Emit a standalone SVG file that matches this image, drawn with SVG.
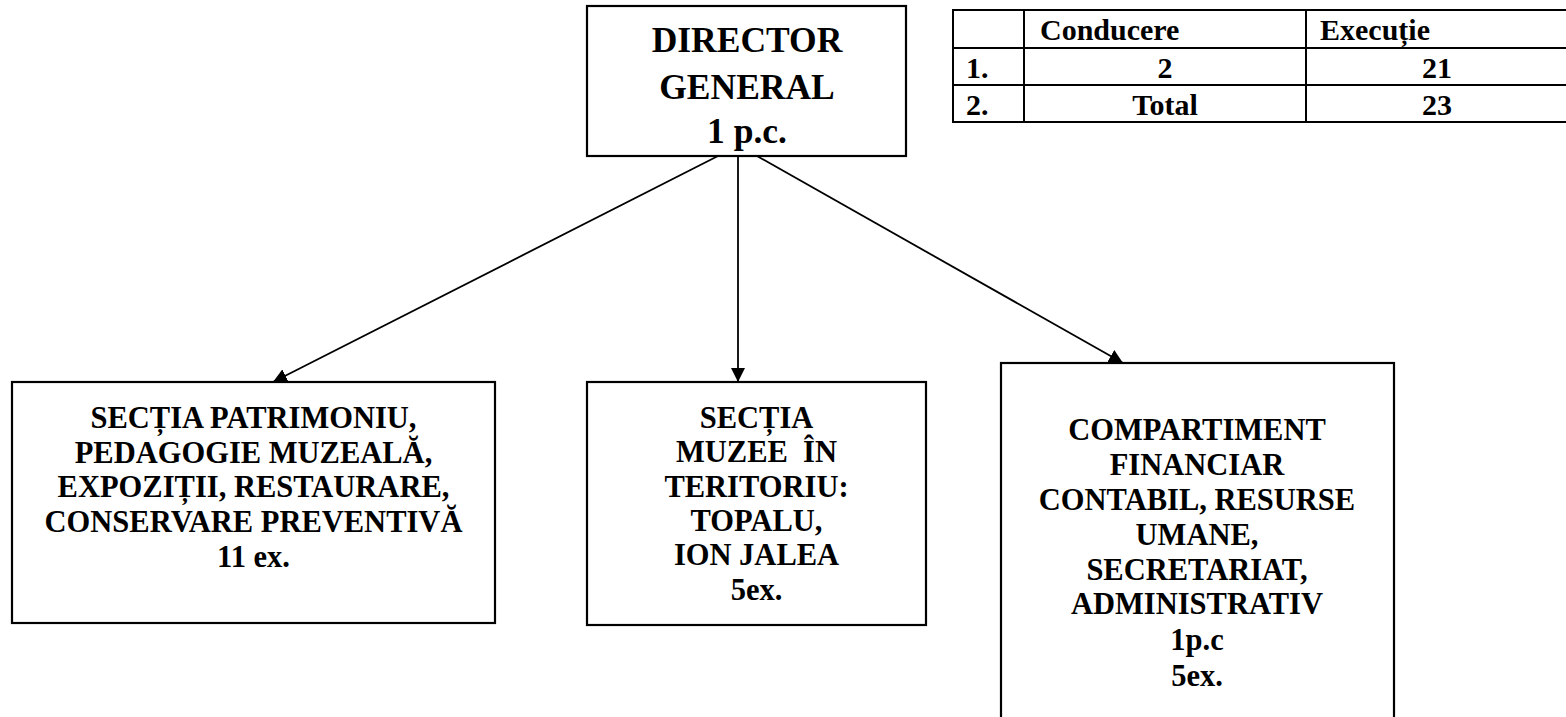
<svg xmlns="http://www.w3.org/2000/svg" width="1566" height="717" viewBox="0 0 1566 717">
<style>
.box{fill:#fff;stroke:#000;stroke-width:2.2}
.t{font-family:"Liberation Serif","Times New Roman",serif;font-weight:bold;font-size:30.5px;fill:#000;text-anchor:middle}
.dir{font-size:35.5px}
.tb{font-family:"Liberation Serif","Times New Roman",serif;font-size:30px;font-weight:bold;fill:#000}
.m{text-anchor:middle}
.ln{stroke:#000;stroke-width:2;fill:none}
.conn{stroke:#000;stroke-width:1.8;fill:none;marker-end:url(#ah)}
</style>
<defs>
<marker id="ah" viewBox="0 0 14 14" refX="14" refY="7" markerWidth="14" markerHeight="14" orient="auto" markerUnits="userSpaceOnUse">
<path d="M0,0 L14,7 L0,14 z" fill="#000"/>
</marker>
</defs>
<rect width="1566" height="717" fill="#fff"/>

<g id="connectors">
<line class="conn" x1="718" y1="156" x2="273" y2="382"/>
<line class="conn" x1="738" y1="156" x2="738" y2="382"/>
<line class="conn" x1="757" y1="156" x2="1123" y2="363"/>
</g>

<g id="director">
<rect class="box" x="587" y="6" width="319" height="150"/>
<text class="t dir" x="747" y="52">DIRECTOR</text>
<text class="t dir" x="747" y="99">GENERAL</text>
<text class="t dir" x="747" y="143">1 p.c.</text>
</g>

<g id="table">
<rect class="ln" x="953" y="10" width="620" height="112"/>
<line class="ln" x1="953" y1="48" x2="1570" y2="48"/>
<line class="ln" x1="953" y1="85" x2="1570" y2="85"/>
<line class="ln" x1="1024" y1="10" x2="1024" y2="122"/>
<line class="ln" x1="1306" y1="10" x2="1306" y2="122"/>
<text class="tb" x="1040" y="40">Conducere</text>
<text class="tb" x="1320" y="40">Execuție</text>
<text class="tb" x="966" y="78">1.</text>
<text class="tb m" x="1165" y="78">2</text>
<text class="tb m" x="1437" y="78">21</text>
<text class="tb" x="966" y="115">2.</text>
<text class="tb m" x="1165" y="115">Total</text>
<text class="tb m" x="1437" y="115">23</text>
</g>

<g id="sectia-patrimoniu">
<rect class="box" x="12" y="382" width="483" height="241"/>
<text class="t" x="253.5" y="428">SECȚIA PATRIMONIU,</text>
<text class="t" x="253.5" y="463">PEDAGOGIE MUZEALĂ,</text>
<text class="t" x="253.5" y="497">EXPOZIȚII, RESTAURARE,</text>
<text class="t" x="253.5" y="532">CONSERVARE PREVENTIVĂ</text>
<text class="t" x="253.5" y="567">11 ex.</text>
</g>

<g id="sectia-muzee">
<rect class="box" x="587" y="382" width="339" height="243"/>
<text class="t" x="756.5" y="428">SECȚIA</text>
<text class="t" x="756.5" y="462">MUZEE&#160; ÎN</text>
<text class="t" x="756.5" y="497">TERITORIU:</text>
<text class="t" x="756.5" y="531">TOPALU,</text>
<text class="t" x="756.5" y="565">ION JALEA</text>
<text class="t" x="756.5" y="600">5ex.</text>
</g>

<g id="compartiment">
<rect class="box" x="1001" y="363" width="393" height="357"/>
<text class="t" x="1197" y="440">COMPARTIMENT</text>
<text class="t" x="1197" y="475">FINANCIAR</text>
<text class="t" x="1197" y="510">CONTABIL, RESURSE</text>
<text class="t" x="1197" y="545">UMANE,</text>
<text class="t" x="1197" y="580">SECRETARIAT,</text>
<text class="t" x="1197" y="614">ADMINISTRATIV</text>
<text class="t" x="1197" y="650">1p.c</text>
<text class="t" x="1197" y="686">5ex.</text>
</g>
</svg>
